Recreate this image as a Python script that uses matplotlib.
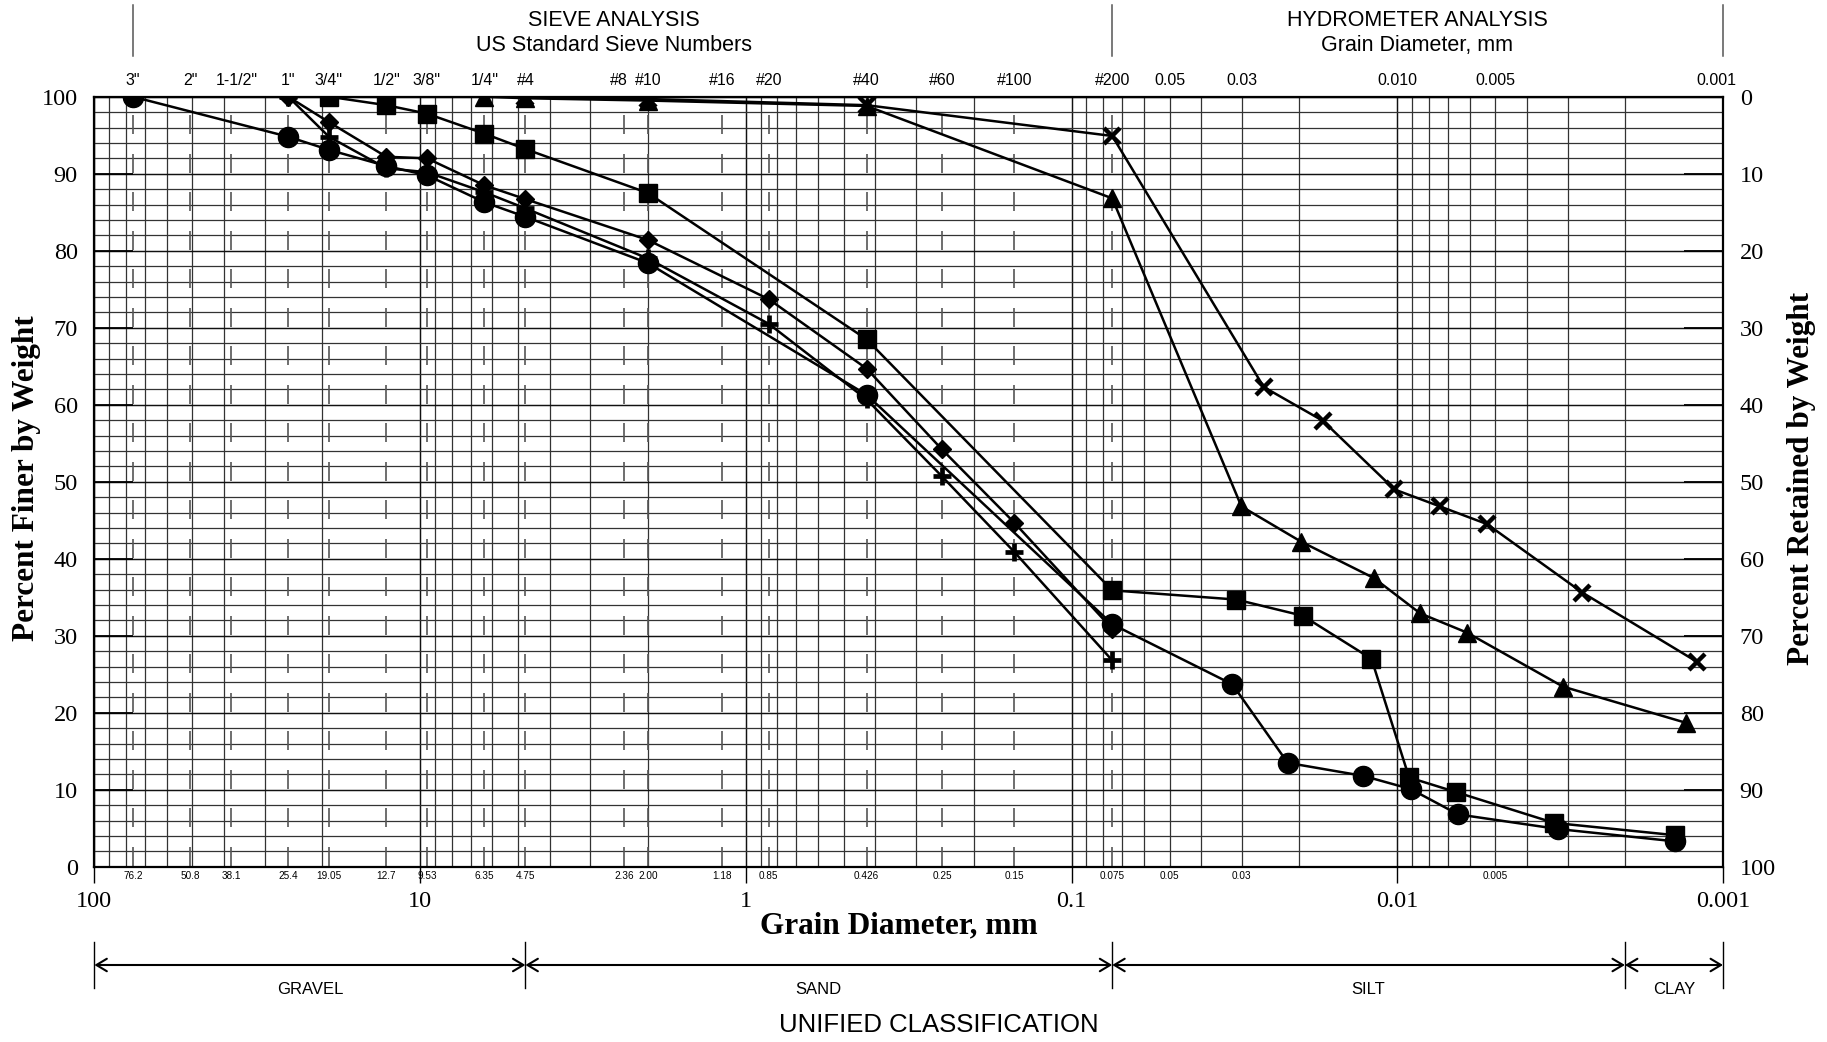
"""
Grain size distribution chart (sieve + hydrometer analysis).
Saves out.png.
"""

import matplotlib

matplotlib.use("Agg")

import matplotlib.pyplot as plt
import numpy as np
from matplotlib.ticker import FixedLocator, LogLocator, NullFormatter


# 1. Data (grain diameter in mm, percent finer by weight)

circle_d = [76.2, 25.4, 19.05, 12.7, 9.53, 6.35, 4.75, 2.00, 0.426, 0.075,
            0.0321, 0.0217, 0.0127, 0.0091, 0.0065, 0.0032, 0.0014]
circle_p = [100, 94.8, 93.1, 91.0, 89.8, 86.3, 84.4, 78.4, 61.3, 31.5,
            23.7, 13.5, 11.8, 10.1, 6.8, 4.9, 3.3]

square_d = [19.05, 12.7, 9.53, 6.35, 4.75, 2.00, 0.426, 0.075,
            0.0312, 0.0195, 0.0120, 0.0092, 0.0066, 0.0033, 0.0014]
square_p = [100, 98.9, 97.8, 95.2, 93.2, 87.5, 68.5, 35.9,
            34.7, 32.6, 27.0, 11.6, 9.7, 5.7, 4.1]

diamond_d = [25.4, 19.05, 12.7, 9.53, 6.35, 4.75, 2.00, 0.85, 0.426,
             0.25, 0.15, 0.075]
diamond_p = [100, 96.7, 92.2, 92.0, 88.5, 86.7, 81.4, 73.7, 64.7,
             54.2, 44.7, 30.9]

plus_d = [25.4, 19.05, 12.7, 9.53, 6.35, 4.75, 2.00, 0.85, 0.426,
          0.25, 0.15, 0.075]
plus_p = [100, 94.8, 90.7, 90.2, 87.6, 85.5, 79.0, 70.5, 60.7,
          50.7, 40.9, 26.8]

triangle_d = [6.35, 4.75, 2.00, 0.426, 0.075, 0.0301, 0.0197, 0.0118,
              0.0085, 0.0061, 0.0031, 0.0013]
triangle_p = [100, 99.8, 99.5, 98.8, 86.8, 46.8, 42.2, 37.5,
              32.9, 30.4, 23.4, 18.7]

cross_d = [4.75, 2.00, 0.426, 0.075, 0.0257, 0.0169, 0.0102, 0.0074,
           0.0053, 0.0027, 0.0012]
cross_p = [100, 99.7, 98.9, 94.9, 62.3, 57.9, 49.0, 46.8,
           44.5, 35.6, 26.6]

# sieve sizes (mm) with top names and bottom size labels
sieve_sizes = [76.2, 50.8, 38.1, 25.4, 19.05, 12.7, 9.53, 6.35, 4.75,
               2.36, 2.00, 1.18, 0.85, 0.426, 0.25, 0.15, 0.075]
top_label_sizes = [76.2, 50.8, 36.5, 25.4, 19.05, 12.7, 9.53, 6.35, 4.75,
                   2.45, 2.00, 1.18, 0.85, 0.426, 0.25, 0.15, 0.075,
                   0.05, 0.03, 0.010, 0.005, 0.00105]
top_labels = ['3"', '2"', '1-1/2"', '1"', '3/4"', '1/2"', '3/8"', '1/4"',
              "#4", "#8", "#10", "#16", "#20", "#40", "#60", "#100", "#200",
              "0.05", "0.03", "0.010", "0.005", "0.001"]
bottom_label_sizes = sieve_sizes + [0.05, 0.03, 0.005]
bottom_labels = ["76.2", "50.8", "38.1", "25.4", "19.05", "12.7", "9.53",
                 "6.35", "4.75", "2.36", "2.00", "1.18", "0.85", "0.426",
                 "0.25", "0.15", "0.075", "0.05", "0.03", "0.005"]

major_x = [100, 10, 1, 0.1, 0.01, 0.001]
major_x_labels = ["100", "10", "1", "0.1", "0.01", "0.001"]

# header sections and unified classification bands
header_bounds = [76.2, 0.075, 0.001]
class_bounds = [100, 4.75, 0.075, 0.002, 0.001]
class_names = ["GRAVEL", "SAND", "SILT", "CLAY"]


# 2. Layout helpers (pixel positions of the plot box)

FIG_W, FIG_H = 1827, 1042
AX_LEFT, AX_RIGHT = 94.4, 1723.0
AX_TOP, AX_BOTTOM = 96.7, 866.8

SANS = ["Liberation Sans", "DejaVu Sans"]
SERIF = ["Liberation Serif", "DejaVu Serif"]

plt.rcParams["font.family"] = SANS


def ax_y(px):
    """Pixel row -> axes fraction."""
    return (AX_BOTTOM - px) / (AX_BOTTOM - AX_TOP)


def fig_y(px):
    return 1 - px / FIG_H


# 3. Figure and axes

fig = plt.figure(figsize=(FIG_W / 100, FIG_H / 100), dpi=100)
ax = fig.add_axes([
    AX_LEFT / FIG_W,
    1 - AX_BOTTOM / FIG_H,
    (AX_RIGHT - AX_LEFT) / FIG_W,
    (AX_BOTTOM - AX_TOP) / FIG_H,
])

ax.set_xscale("log")
ax.set_xlim(100, 0.001)
ax.set_ylim(0, 100)
ax.set_axisbelow(True)

ax.xaxis.set_major_locator(FixedLocator(major_x))
ax.xaxis.set_minor_locator(LogLocator(base=10, subs=np.arange(2, 10)))
ax.xaxis.set_minor_formatter(NullFormatter())
ax.set_xticklabels(major_x_labels, fontfamily=SERIF, fontsize=17.5)
ax.tick_params(axis="x", which="major", direction="out", length=11.5,
               width=1, pad=6)
ax.tick_params(axis="x", which="minor", length=0)

ax.set_yticks(np.arange(0, 101, 10))
ax.set_yticks(np.arange(0, 101, 2), minor=True)
ax.set_yticklabels([str(v) for v in range(0, 101, 10)],
                   fontfamily=SERIF, fontsize=17.5)
ax.tick_params(axis="y", which="major", direction="in", length=28,
               width=1.3, pad=12)
ax.tick_params(axis="y", which="minor", length=0)

ax.grid(True, which="major", axis="both", color="#111111", linewidth=1.05)
ax.grid(True, which="minor", axis="both", color="#333333", linewidth=0.9)

for spine in ax.spines.values():
    spine.set_linewidth(1.6)

# dashed sieve lines
dash_starts = np.arange(0, 100, 5)
for size in sieve_sizes:
    ax.vlines(
        [size] * len(dash_starts),
        dash_starts + 0.15,
        dash_starts + 2.6,
        colors="#555555",
        linewidth=1.2,
        zorder=1.5
    )

# right axis (percent retained)
ax2 = ax.twinx()
ax2.set_ylim(100, 0)
ax2.set_yticks(np.arange(0, 101, 10))
ax2.set_yticklabels([str(v) for v in range(0, 101, 10)],
                    fontfamily=SERIF, fontsize=17.5)
ax2.tick_params(axis="y", direction="in", length=28, width=1.3, pad=12)
for spine in ax2.spines.values():
    spine.set_visible(False)


# 4. Data series

line_kw = dict(color="black", linewidth=1.8, zorder=4)

ax.plot(circle_d, circle_p, marker="o", markersize=14.5, **line_kw)
ax.plot(square_d, square_p, marker="s", markersize=13.5, **line_kw)
ax.plot(diamond_d, diamond_p, marker="D", markersize=9, **line_kw)
ax.plot(plus_d, plus_p, marker="+", markersize=13, markeredgewidth=3.4,
        **line_kw)
ax.plot(triangle_d, triangle_p, marker="^", markersize=13, **line_kw)
ax.plot(cross_d, cross_p, marker="x", markersize=12, markeredgewidth=3.2,
        **line_kw)


# 5. Sieve labels above and below the plot box

xtr = ax.get_xaxis_transform()

for size, label in zip(top_label_sizes, top_labels):
    ax.text(size, ax_y(80.5), label, transform=xtr, ha="center",
            va="center", fontsize=11.5, clip_on=False)

for size, label in zip(bottom_label_sizes, bottom_labels):
    ax.text(size, ax_y(876), label, transform=xtr, ha="center",
            va="center", fontsize=7.2, clip_on=False)


# 6. Header: sieve / hydrometer sections

for size in header_bounds:
    ax.plot([size, size], [ax_y(5), ax_y(56)], transform=xtr,
            color="#555555", linewidth=1.1, clip_on=False)

sieve_mid_px = 614
hydro_mid_px = 1417

fig.text(sieve_mid_px / FIG_W, fig_y(21), "SIEVE ANALYSIS",
         ha="center", va="center", fontsize=15.5)
fig.text(sieve_mid_px / FIG_W, fig_y(45.5), "US Standard Sieve Numbers",
         ha="center", va="center", fontsize=15.5)
fig.text(hydro_mid_px / FIG_W, fig_y(21), "HYDROMETER ANALYSIS",
         ha="center", va="center", fontsize=15.5)
fig.text(hydro_mid_px / FIG_W, fig_y(45.5), "Grain Diameter, mm",
         ha="center", va="center", fontsize=15.5)


# 7. Axis titles

fig.text(27 / FIG_W, fig_y(478), "Percent Finer by Weight",
         rotation=90, ha="center", va="center", fontsize=22.5,
         fontweight="bold", fontfamily=SERIF)
fig.text(1801 / FIG_W, fig_y(478), "Percent Retained by Weight",
         rotation=90, ha="center", va="center", fontsize=22.5,
         fontweight="bold", fontfamily=SERIF)
fig.text(899 / FIG_W, fig_y(926),
         "Grain Diameter, mm", ha="center", va="center", fontsize=22.5,
         fontweight="bold", fontfamily=SERIF)


# 8. Unified classification bands

for size in class_bounds:
    ax.plot([size, size], [ax_y(941.5), ax_y(988)], transform=xtr,
            color="black", linewidth=1.0, clip_on=False)

for left, right, name in zip(class_bounds[:-1], class_bounds[1:],
                             class_names):
    ax.annotate(
        "",
        xy=(right, ax_y(965)),
        xytext=(left, ax_y(965)),
        xycoords=xtr,
        textcoords=xtr,
        arrowprops=dict(
            arrowstyle="<->,head_length=0.75,head_width=0.45",
            color="black",
            linewidth=1.5,
            shrinkA=0,
            shrinkB=0
        ),
        annotation_clip=False
    )
    ax.text(np.sqrt(left * right), ax_y(989), name, transform=xtr,
            ha="center", va="center", fontsize=12, clip_on=False)

fig.text(939 / FIG_W, fig_y(1025.5),
         "UNIFIED CLASSIFICATION", ha="center", va="center", fontsize=18.5)


# 9. Save

fig.savefig("out.png", dpi=100)
print("Saved out.png")
